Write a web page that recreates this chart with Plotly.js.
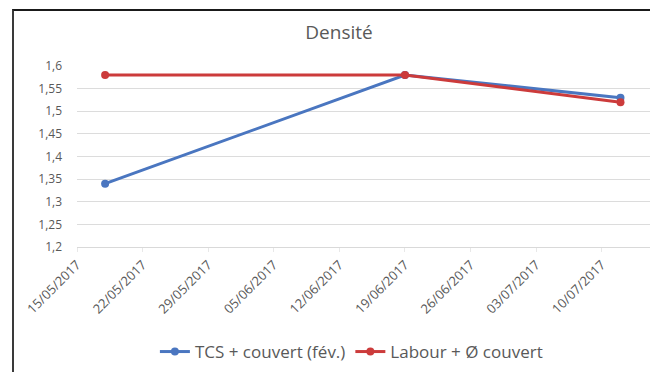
<!DOCTYPE html>
<html>
<head>
<meta charset="utf-8">
<script src="https://cdn.plot.ly/plotly-3.0.1.min.js"></script>
<style>
  html, body { margin: 0; padding: 0; width: 650px; height: 372px; overflow: hidden; background: #ffffff; }
  #frame { position: absolute; left: 12px; top: 9px; width: 700px; height: 400px;
           border-left: 2px solid #3a3a3a; border-top: 2px solid #1a1a1a; }
  #chart { position: absolute; left: 0; top: 0; width: 690px; height: 380px; }
</style>
</head>
<body>
<div id="chart"></div>
<div id="frame"></div>
<script>
// Soil bulk density measured at three dates
const dates = ['2017-05-18', '2017-06-19', '2017-07-12'];
const tcsCouvert = [1.34, 1.58, 1.53];
const labourSansCouvert = [1.58, 1.58, 1.52];
const seriesNames = ['TCS + couvert (fév.)', 'Labour + Ø couvert'];

const blue = '#4a76c0';
const red = '#cc3b3b';
const grey = '#595959';

const traces = [
  {
    x: dates, y: tcsCouvert, name: seriesNames[0], type: 'scatter', mode: 'lines+markers',
    line: { color: blue, width: 3 }, marker: { color: blue, size: 8 }
  },
  {
    x: dates, y: labourSansCouvert, name: seriesNames[1], type: 'scatter', mode: 'lines+markers',
    line: { color: red, width: 3 }, marker: { color: red, size: 8 }
  }
];

const layout = {
  width: 690, height: 380,
  margin: { l: 77, r: 25, t: 66, b: 133 },
  paper_bgcolor: 'rgba(0,0,0,0)', plot_bgcolor: '#ffffff',
  separators: ',.',
  font: { family: '"Open Sans", "Liberation Sans", sans-serif', color: grey, size: 11 },
  title: { text: 'Densité', x: 339 / 690, xanchor: 'center', y: 1 - 32 / 380, yanchor: 'middle',
           font: { size: 19, color: grey } },
  xaxis: {
    type: 'date',
    range: ['2017-05-15', '2017-07-16 18:00'],
    tick0: '2017-05-15', dtick: 7 * 24 * 3600 * 1000,
    tickformat: '%d/%m/%Y', tickangle: -45,
    showgrid: false, zeroline: false,
    showline: true, linecolor: '#d9d9d9', linewidth: 1,
    ticks: 'outside', ticklen: 4, tickcolor: '#e8e8e8',
    tickfont: { size: 13, color: grey }
  },
  yaxis: {
    range: [1.2, 1.6], dtick: 0.05, tick0: 1.2,
    showgrid: true, gridcolor: '#dcdcdc', gridwidth: 1,
    zeroline: false, showline: false,
    ticklabelstandoff: 14,
    tickfont: { size: 12, color: grey }
  },
  legend: {
    orientation: 'h', x: 322 / 690, xanchor: 'center', y: 1 - 352 / 380, yref: 'container', yanchor: 'middle',
    font: { size: 17, color: grey }, itemwidth: 30, tracegroupgap: 0
  },
  showlegend: true
};

Plotly.newPlot('chart', traces, layout, { staticPlot: true, displayModeBar: false });
</script>
</body>
</html>
